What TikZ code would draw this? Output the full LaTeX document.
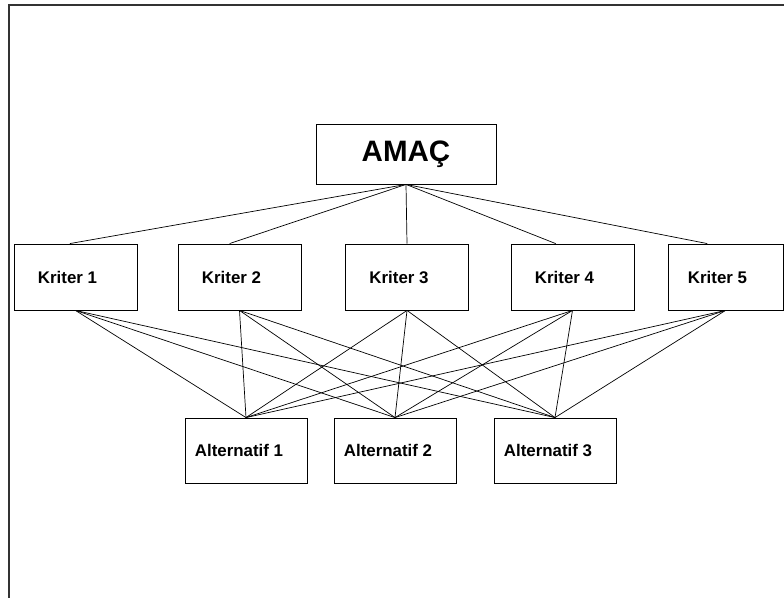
\documentclass[tikz,border=0pt]{standalone}
\usepackage{fontspec}
\setmainfont{Liberation Sans}
\begin{document}
\begin{tikzpicture}[x=0.025cm, y=-0.025cm,
  box/.style={draw, line width=0.6pt, inner sep=0pt, font=\fontsize{12}{14}\selectfont\bfseries},
  kriter/.style={box, minimum width=3.075cm, minimum height=1.65cm, execute at end node={\hspace*{0.4cm}}},
  alt/.style={box, minimum width=3.05cm, minimum height=1.625cm, execute at end node={\hspace*{0.35cm}}},
  link/.style={line width=0.5pt}]

\useasboundingbox (0,0) rectangle (784,598);
\draw [black!80, line width=1.2pt] (9,610) -- (9,5) -- (800,5);

\node [box, minimum width=4.5cm, minimum height=1.5cm, font=\fontsize{21}{24}\selectfont\bfseries] (goal) at (406,154) {AMAÇ};

\node [kriter] (k1) at (75.5,277) {Kriter 1};
\node [kriter] (k2) at (239.5,277) {Kriter 2};
\node [kriter] (k3) at (407,277) {Kriter 3};
\node [kriter] (k4) at (572.5,277) {Kriter 4};
\node [kriter, minimum width=2.875cm] (k5) at (725.5,277) {Kriter 5};

\node [alt] (a1) at (246,450.5) {Alternatif 1};
\node [alt] (a2) at (395,450.5) {Alternatif 2};
\node [alt] (a3) at (555,450.5) {Alternatif 3};

\draw [link] (goal.south) -- ([xshift=-4pt]k1.north);
\draw [link] (goal.south) -- ([xshift=-7pt]k2.north);
\draw [link] (goal.south) -- (k3.north);
\draw [link] (goal.south) -- ([xshift=-12pt]k4.north);
\draw [link] (goal.south) -- ([xshift=-13pt]k5.north);

\foreach \k in {k1,k2,k3,k4,k5}
  \foreach \a in {a1,a2,a3}
    \draw [link] (\k.south) -- (\a.north);
\end{tikzpicture}
\end{document}
